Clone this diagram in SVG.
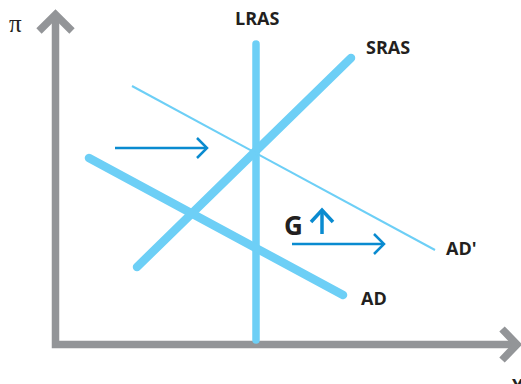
<svg xmlns="http://www.w3.org/2000/svg" width="521" height="384" viewBox="0 0 521 384">
<style>
.axis{fill:none;stroke:#939598;stroke-width:7.5;stroke-linejoin:miter}
.curve{fill:none;stroke:#6dcff6;stroke-linecap:round}
.shift{fill:none;stroke:#0a8bd0;stroke-width:2.5}
.lbl{font-family:"Open Sans","Liberation Sans",sans-serif;font-weight:700;font-size:18px;fill:#231f20}
.big{font-size:26px}
</style>
<rect width="521" height="384" fill="#fff"/>
<g id="axes">
<polyline class="axis" points="55.5,14 55.5,344.5 516,344.5"/>
<polyline class="axis" points="39,31 55.5,14.5 72,31"/>
<polyline class="axis" points="502,329 517,344.5 502,360"/>
<text x="9" y="32" font-family="'Liberation Serif',serif" font-size="25" fill="#231f20">π</text>
<text x="512" y="392" class="lbl">Y</text>
</g>
<g id="connectors">
<line id="lras" class="curve" x1="256" y1="44" x2="256" y2="340" stroke-width="7.5"/>
<line id="sras" class="curve" x1="137" y1="267" x2="351" y2="58" stroke-width="8.5"/>
<line id="ad" class="curve" x1="89" y1="158" x2="343" y2="295" stroke-width="8.5"/>
<line id="adp" class="curve" x1="132" y1="86" x2="435" y2="250" stroke-width="2" style="stroke-linecap:butt"/>
<g id="shift-arrow-1">
<line class="shift" x1="115" y1="148" x2="206" y2="148"/>
<polyline class="shift" points="197,138 207,148 197,158"/>
</g>
<g id="shift-arrow-2">
<line class="shift" x1="292" y1="244" x2="384" y2="244"/>
<polyline class="shift" points="374,234 384,244 374,254"/>
</g>
<g id="g-up">
<line class="shift" x1="322" y1="234" x2="322" y2="210" style="stroke-width:3.5"/>
<polyline class="shift" points="311,222 322,210 333,222" style="stroke-width:3.5"/>
</g>
</g>
<g id="labels">
<text class="lbl" x="235" y="25">LRAS</text>
<text class="lbl" x="366" y="54">SRAS</text>
<text class="lbl" x="446" y="255">AD'</text>
<text class="lbl" x="361" y="305">AD</text>
<text class="lbl big" x="284" y="235">G</text>
</g>
</svg>
